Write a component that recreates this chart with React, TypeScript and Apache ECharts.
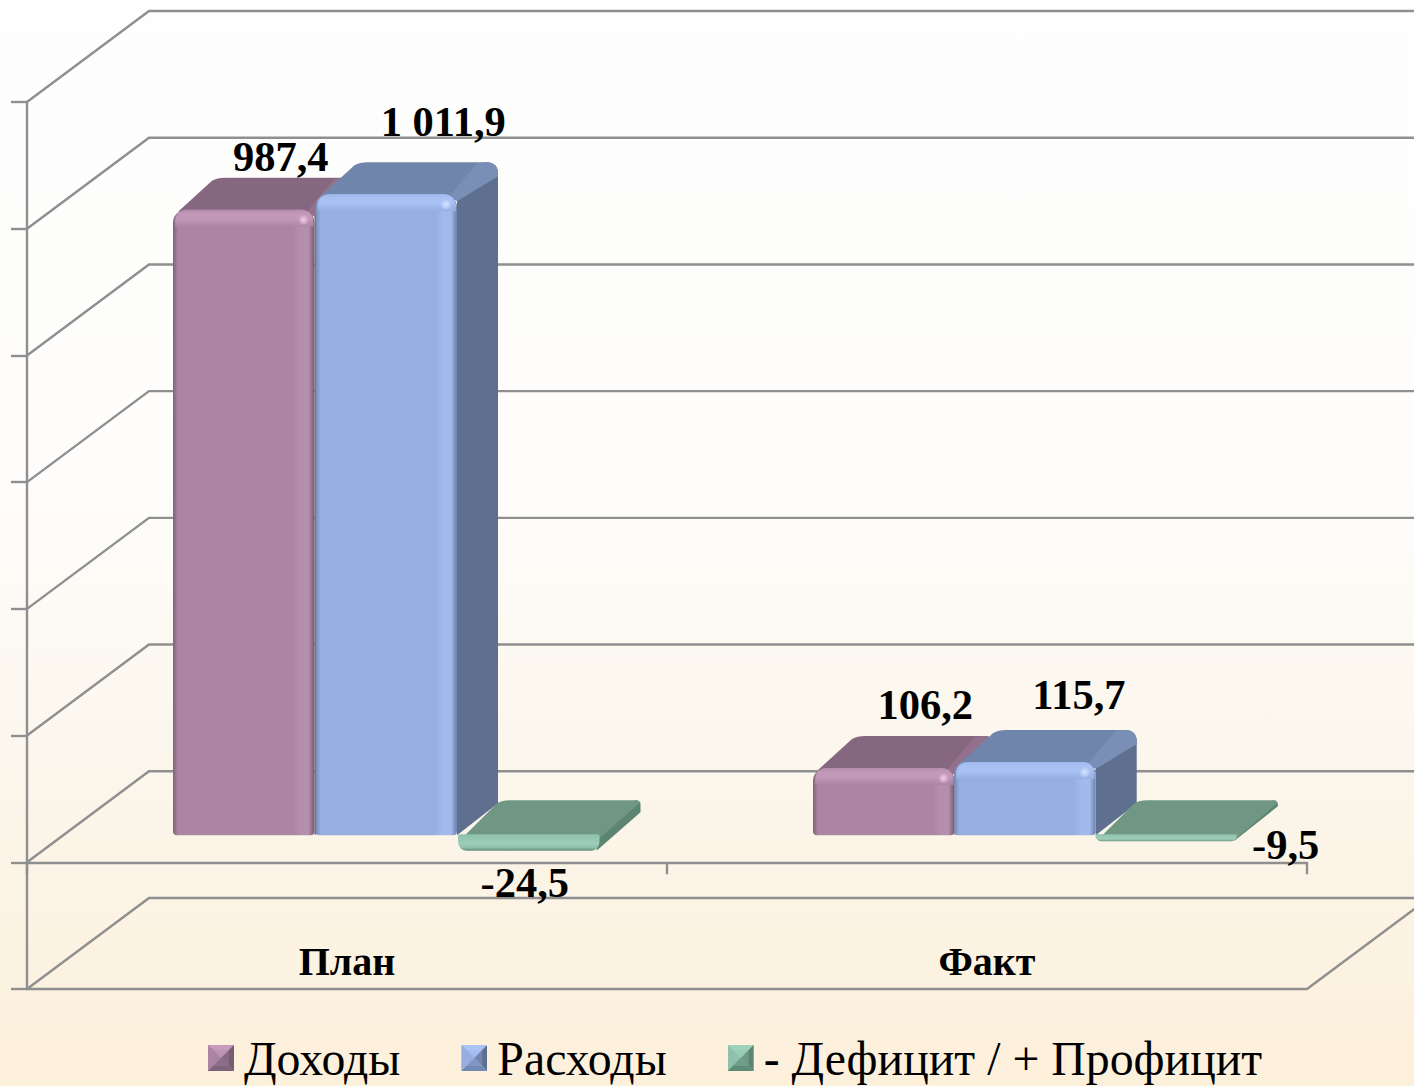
import React, { useEffect, useRef } from "react";
import * as echarts from "echarts";

const categories = ["План", "Факт"];
const incomes = [987.4, 106.2];
const expenses = [1011.9, 115.7];
const balance = [-24.5, -9.5];
const seriesNames = ["Доходы", "Расходы", "- Дефицит / + Профицит"];
const tickValues = [-200, 0, 200, 400, 600, 800, 1000, 1200];

const SERIF = "Liberation Serif";
const WALL = { dx: 122, dy: -91 };
const FRONT_SHIFT = { dx: 36, dy: -27 };
const BAR = { start: 146, width: 141.5, depthX: 41, depthY: 32 };
const PITCH = [142.5, 141.2];
// label centre relative to bar's front-top centre, per series then per category
const LABEL_OFFSET = [
  [[37, -53], [41.5, -64]],
  [[57, -73], [54, -67]],
  [[-4, 32], [119.5, 3]],
];

const PALETTE = [
  { front: "#ac84a4", light: "#c69bbc", edge: "#b58dad", dark: "#7f6379", top: "#866780", strip: "#93718c", side: "#775b71", spot: "#f2cfe8" },
  { front: "#98aee0", light: "#abc3f6", edge: "#a2b9ec", dark: "#7389b5", top: "#7085ab", strip: "#7a8fb6", side: "#5f6f90", spot: "#d6e6ff" },
  { front: "#8fc0ab", light: "#9fd2bb", edge: "#9bcdb8", dark: "#5f8a76", top: "#6f9784", strip: "#628b78", side: "#5b8471", spot: "#c8ecdc" },
];

const fmt = (v: number) => {
  const neg = v < 0;
  const [i, d] = Math.abs(v).toFixed(1).split(".");
  const grouped = i.replace(/\B(?=(\d{3})+(?!\d))/g, " ");
  return (neg ? "-" : "") + grouped + "," + d;
};

const legendIcon = (p: (typeof PALETTE)[number]) => {
  const svg =
    `<svg xmlns="http://www.w3.org/2000/svg" width="26" height="26" viewBox="0 0 26 26">` +
    `<rect width="26" height="26" fill="${p.front}"/>` +
    `<polygon points="0,0 26,0 13,13" fill="${p.light}"/>` +
    `<polygon points="0,0 13,13 0,26" fill="${p.front}"/>` +
    `<polygon points="26,0 26,26 13,13" fill="${p.side}"/>` +
    `<polygon points="0,26 26,26 13,13" fill="${p.dark}"/>` +
    `<rect x="5" y="5" width="16" height="16" fill="${p.front}" opacity="0.35"/>` +
    `</svg>`;
  return "image://data:image/svg+xml;charset=utf-8," + encodeURIComponent(svg);
};

const grad = (x: number, y: number, x2: number, y2: number, stops: [number, string][]) =>
  new echarts.graphic.LinearGradient(x, y, x2, y2, stops.map(([offset, color]) => ({ offset, color })));

function barRenderer(si: number) {
  const p = PALETTE[si];
  return (params: any, api: any) => {
    const cat = api.value(0);
    const val = api.value(1);
    const center = api.coord([cat, 0]);
    const band = api.size([1, 0])[0];
    const x1 = center[0] - band / 2 + BAR.start + si * PITCH[cat];
    const x2 = x1 + BAR.width;
    const base = center[1] + FRONT_SHIFT.dy;
    const end = api.coord([cat, val])[1] + FRONT_SHIFT.dy;
    const neg = val < 0;
    const top = neg ? base : end;
    const bottom = neg ? end : base;
    const dX = BAR.depthX;
    const dY = neg ? BAR.depthY + 3 : BAR.depthY;
    const w = x2 - x1;
    const h = bottom - top;
    const r = neg ? 5 : 12;
    const farY = top - dY;

    const topPath =
      `M${x1 + 5} ${top + 2} L${x1 + dX - 2} ${farY + 3} Q${x1 + dX + 3} ${farY} ${x1 + dX + 11} ${farY} ` +
      `L${x2 + dX - r} ${farY} Q${x2 + dX} ${farY} ${x2 + dX} ${farY + r} ` +
      (neg
        ? `L${x2 + dX} ${farY + r - 3} L${x2} ${top + 3} Z`
        : `L${x2 + dX} ${farY + r + 2} L${x2} ${top + 6} Z`);
    const sidePath =
      `M${x2} ${top} L${x2 + dX - r} ${farY} Q${x2 + dX} ${farY} ${x2 + dX} ${farY + r} ` +
      `L${x2 + dX} ${neg ? farY + Math.max(r, Math.min(h, 12)) : bottom - dY} ` +
      `L${x2 - (neg ? 3 : 0)} ${bottom} Z`;
    const stripPath =
      `M${x2 - 7} ${top + 1} L${x2 + dX - r - 9} ${farY + 1} L${x2 + dX - r} ${farY} Q${x2 + dX} ${farY} ${x2 + dX} ${farY + r} ` +
      `L${x2 + dX} ${farY + r + 2} L${x2} ${top + 7} Z`;

    const children: any[] = [
      { type: "path", shape: { pathData: sidePath }, style: { fill: p.side } },
      { type: "path", shape: { pathData: topPath }, style: { fill: p.top } },
    ];
    if (!neg) {
      children.push({ type: "path", shape: { pathData: stripPath }, style: { fill: p.strip } });
    }

    if (neg) {
      children.push({
        type: "rect",
        shape: { x: x1, y: top - 1, width: w, height: h + 1, r: [2, 2, 9, 9] },
        style: { fill: grad(0, 0, 0, 1, [[0, p.front], [0.55, p.edge], [0.8, p.front], [1, p.dark]]) },
      });
    } else {
      const ew = 1 / w;
      children.push({
        type: "rect",
        shape: { x: x1, y: top, width: w, height: h, r: [13, 13, 4, 4] },
        style: {
          fill: grad(0, 0, 1, 0, [
            [0, p.dark],
            [5 * ew, p.front],
            [1 - 22 * ew, p.front],
            [1 - 14 * ew, p.edge],
            [1 - 6 * ew, p.edge],
            [1 - 1 * ew, p.dark],
            [1, p.dark],
          ]),
        },
      });
      children.push({
        type: "rect",
        shape: { x: x1 + 2, y: top, width: w - 3, height: Math.min(h, 17), r: [12, 12, 0, 0] },
        style: { fill: grad(0, 0, 0, 1, [[0, p.edge], [0.25, p.light], [0.55, p.light], [1, p.front]]), opacity: 0.85 },
      });
      children.push({
        type: "circle",
        shape: { cx: x2 - 11, cy: top + 10, r: 5 },
        style: { fill: new echarts.graphic.RadialGradient(0.5, 0.5, 0.5, [{ offset: 0, color: p.spot }, { offset: 1, color: p.light }]) },
      });
    }
    const off = LABEL_OFFSET[si][cat];
    children.push({
      type: "text",
      style: {
        text: fmt(val),
        x: x1 + w / 2 + off[0],
        y: end + off[1],
        align: "center",
        verticalAlign: "middle",
        fontFamily: SERIF,
        fontWeight: "bold",
        fontSize: 42.5,
        fill: "#000",
      },
    });
    return { type: "group", children };
  };
}

function wallRenderer(params: any, api: any) {
  const v = api.value(1);
  const y = api.coord([0, v])[1];
  const cs = params.coordSys;
  const x0 = cs.x;
  const line = { stroke: "#8f8f8f", lineWidth: 2.4, fill: "none" };
  const children: any[] = [
    {
      type: "polyline",
      shape: {
        points: [
          [x0, y],
          [x0 + WALL.dx, y + WALL.dy],
          [x0 + cs.width + WALL.dx, y + WALL.dy],
        ],
      },
      style: line,
    },
  ];
  if (v === tickValues[0]) {
    children.push({
      type: "polyline",
      shape: {
        points: [
          [x0, y],
          [x0 + cs.width, y],
          [x0 + cs.width + WALL.dx, y + WALL.dy],
        ],
      },
      style: line,
    });
  }
  return { type: "group", children };
}

export default function App() {
  const ref = useRef<HTMLDivElement>(null);
  useEffect(() => {
    const chart = echarts.init(ref.current!, undefined, { renderer: "svg" });
    const values = [incomes, expenses, balance];
    chart.setOption({
      animation: false,
      backgroundColor: grad(0, 0, 0, 1, [
        [0, "#fefefe"],
        [0.45, "#fefdfb"],
        [0.75, "#fbf5e9"],
        [1, "#fdf0db"],
      ]),
      legend: {
        left: 208,
        top: 1034,
        padding: 0,
        selectedMode: false,
        itemWidth: 26,
        itemHeight: 26,
        itemGap: 61,
        textStyle: { fontFamily: SERIF, fontSize: 47.8, color: "#000", padding: [0, 0, 0, 5] },
        data: seriesNames.map((name, i) => ({ name, icon: legendIcon(PALETTE[i]) })),
      },
      grid: { left: 27, right: 107, top: 102, bottom: 97, outerBoundsMode: "none" },
      xAxis: {
        type: "category",
        data: categories,
        axisLine: { onZero: true, lineStyle: { color: "#8f8f8f", width: 2.4 } },
        axisTick: { show: true, length: 12, lineStyle: { color: "#8f8f8f", width: 2.4 } },
        axisLabel: { margin: -48, fontFamily: SERIF, fontWeight: "bold", fontSize: 40, color: "#000" },
        splitLine: { show: false },
      },
      yAxis: {
        type: "value",
        min: -200,
        max: 1200,
        interval: 200,
        axisLine: { show: true, onZero: false, lineStyle: { color: "#8f8f8f", width: 2.4 } },
        axisTick: { show: true, length: 16, lineStyle: { color: "#8f8f8f", width: 2.4 } },
        axisLabel: { show: false },
        splitLine: { show: false },
      },
      series: [
        {
          type: "custom",
          name: "walls",
          z: 1,
          clip: false,
          silent: true,
          data: tickValues.map((v) => [0, v]),
          renderItem: wallRenderer,
        },
        ...seriesNames.map((name, si) => ({
          type: "custom",
          name,
          z: 2,
          clip: false,
          itemStyle: { color: PALETTE[si].front },
          data: values[si].map((v, i) => [i, v]),
          renderItem: barRenderer(si),
        })),
      ],
    });
    return () => chart.dispose();
  }, []);
  return <div ref={ref} style={{ position: "absolute", left: 0, top: 0, width: 1414, height: 1086 }} />;
}
